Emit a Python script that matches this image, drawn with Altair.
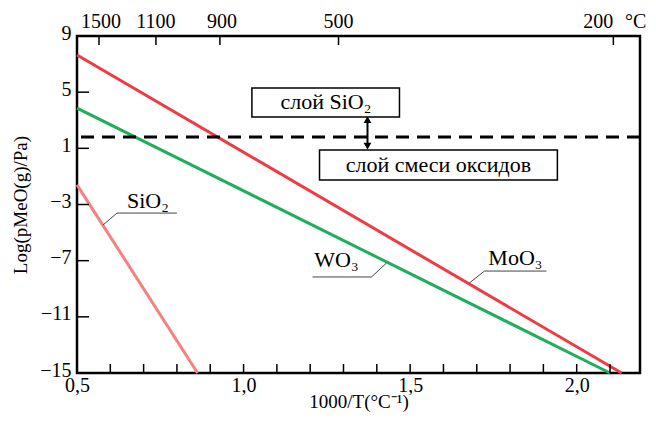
import altair as alt
import pandas as pd

# ---- data ----
moo3_x = [0.5, 2.135]
moo3_y = [7.65, -15.0]
wo3_x = [0.5, 2.10]
wo3_y = [3.87, -15.0]
sio2_x = [0.5, 0.862]
sio2_y = [-1.6, -15.0]
series = ["MoO₃", "WO₃", "SiO₂"]
series_colors = ["#ee3b45", "#1eae5c", "#f5817f"]

x_labels_bottom = [0.5, 1.0, 1.5, 2.0]
x_minor_ticks = [0.6, 0.7, 0.8, 0.9, 1.0, 1.1, 1.2, 1.3, 1.4, 1.5, 1.6, 1.7, 1.8, 1.9, 2.0, 2.1]
y_ticks = [9, 5, 1, -3, -7, -11, -15]
top_tick_pos = [0.566, 0.737, 0.929, 1.285, 2.110]
top_label_pos = [0.572, 0.737, 0.935, 1.285, 2.065]
top_labels = ["1500", "1100", "900", "500", "200"]

boundary_level = [1.8]
arrow_x = [1.372]
arrow_y = [3.05, 1.15]

box_names = ["слой SiO₂", "слой смеси оксидов"]
box_x1 = [1.025, 1.228]
box_x2 = [1.468, 1.942]
box_y1 = [3.23, -1.26]
box_y2 = [5.30, 0.88]
box_text_x = [1.247, 1.585]
box_text_y = [4.27, -0.19]

label_text = ["SiO₂", "WO₃", "MoO₃"]
label_x = [0.713, 1.279, 1.816]
label_y = [-3.25, -7.45, -7.31]
under_x1 = [0.620, 1.207, 1.723]
under_x2 = [0.800, 1.384, 1.909]
under_y = [-3.61, -8.16, -7.74]
lead_x2 = [0.578, 1.429, 1.678]
lead_y2 = [-4.46, -7.17, -8.59]
lead_x1 = [0.620, 1.384, 1.723]

# ---- tables ----
lines_df = pd.DataFrame({
    "x": moo3_x + wo3_x + sio2_x,
    "y": moo3_y + wo3_y + sio2_y,
    "s": [series[0]] * 2 + [series[1]] * 2 + [series[2]] * 2,
})
minor_df = pd.DataFrame({"x": x_minor_ticks})
top_tick_df = pd.DataFrame({"x": top_tick_pos})
top_lab_df = pd.DataFrame({"x": top_label_pos, "t": top_labels})
ytick_df = pd.DataFrame({"y": y_ticks})
bound_df = pd.DataFrame({"y": boundary_level})
arrow_df = pd.DataFrame({"x": arrow_x, "y": [arrow_y[0]], "y2": [arrow_y[1]]})
head_df = pd.DataFrame({"x": arrow_x * 2, "y": arrow_y, "shape": ["triangle-up", "triangle-down"]})
box_df = pd.DataFrame({"x": box_x1, "x2": box_x2, "y": box_y1, "y2": box_y2,
                       "tx": box_text_x, "ty": box_text_y, "t": box_names})
lab_df = pd.DataFrame({"x": label_x, "y": label_y, "t": label_text,
                       "ux1": under_x1, "ux2": under_x2, "uy": under_y,
                       "lx1": lead_x1, "lx2": lead_x2, "ly2": lead_y2})

FONT = "Liberation Serif"
W, H = 563, 337
xs = alt.Scale(domain=[0.5, 2.19], nice=False, zero=False)
ys = alt.Scale(domain=[-15, 9], nice=False, zero=False)

xa = alt.Axis(
    values=x_labels_bottom,
    labelExpr="replace(format(datum.value, '.1f'), '.', ',')",
    title="1000/T(°C⁻¹)", ticks=False, domain=False, grid=False,
    labelFont=FONT, labelFontSize=20, labelColor="black", labelFlush=False,
    labelPadding=2, titleFont=FONT, titleFontSize=19, titleFontWeight="normal",
    titleColor="black", titlePadding=-3)
ya = alt.Axis(
    values=y_ticks, title="Log(pMeO(g)/Pa)", ticks=False, domain=False, grid=False,
    labelFont=FONT, labelFontSize=20, labelColor="black", labelPadding=6,
    labelOffset=-3,
    titleFont=FONT, titleFontSize=19, titleFontWeight="normal", titleColor="black",
    titlePadding=9)


def X(f):
    return alt.X(f, scale=xs, axis=xa, title="1000/T(°C⁻¹)")


def Y(f):
    return alt.Y(f, scale=ys, axis=ya, title="Log(pMeO(g)/Pa)")


lines = alt.Chart(lines_df).mark_line(strokeWidth=3).encode(
    x=X("x:Q"), y=Y("y:Q"),
    color=alt.Color("s:N", scale=alt.Scale(domain=series, range=series_colors), legend=None),
    detail="s:N",
)

minor = alt.Chart(minor_df).mark_rule(color="black", strokeWidth=1.5).encode(
    x=X("x:Q"), y=alt.value(H), y2=alt.value(H - 9))
top_ticks = alt.Chart(top_tick_df).mark_rule(color="black", strokeWidth=1.5).encode(
    x=X("x:Q"), y=alt.value(0), y2=alt.value(9))
top_labs = alt.Chart(top_lab_df).mark_text(font=FONT, fontSize=20, color="black",
                                            baseline="alphabetic").encode(
    x=X("x:Q"), y=alt.value(-8), text="t:N")
deg = alt.Chart(pd.DataFrame({"t": ["°C"]})).mark_text(
    font=FONT, fontSize=20, color="black", baseline="alphabetic", align="left").encode(
    x=alt.value(W - 15), y=alt.value(-8), text="t:N")
yticks = alt.Chart(ytick_df).mark_rule(color="black", strokeWidth=1.5).encode(
    y=Y("y:Q"), x=alt.value(0), x2=alt.value(12))

bound = alt.Chart(bound_df).mark_rule(color="black", strokeWidth=3, strokeDash=[13, 8]).encode(
    y=Y("y:Q"))

arrow = alt.Chart(arrow_df).mark_rule(color="black", strokeWidth=2).encode(
    x=X("x:Q"), y=Y("y:Q"), y2="y2:Q")
heads = alt.Chart(head_df).mark_point(filled=True, color="black", size=60, opacity=1).encode(
    x=X("x:Q"), y=Y("y:Q"),
    shape=alt.Shape("shape:N", scale=None))

boxes = alt.Chart(box_df).mark_rect(fill="white", stroke="black", strokeWidth=1.5).encode(
    x=X("x:Q"), x2="x2:Q", y=Y("y:Q"), y2="y2:Q")
box_txt = alt.Chart(box_df).mark_text(font=FONT, fontSize=22, color="black",
                                       baseline="middle").encode(
    x=X("tx:Q"), y=Y("ty:Q"), text="t:N")

labs = alt.Chart(lab_df).mark_text(font=FONT, fontSize=22, color="black",
                                    baseline="alphabetic").encode(
    x=X("x:Q"), y=Y("y:Q"), text="t:N")
under = alt.Chart(lab_df).mark_rule(color="#444444", strokeWidth=1).encode(
    x=X("ux1:Q"), x2="ux2:Q", y=Y("uy:Q"))
lead = alt.Chart(lab_df).mark_rule(color="#444444", strokeWidth=1).encode(
    x=X("lx1:Q"), x2="lx2:Q", y=Y("uy:Q"), y2="ly2:Q")

chart = alt.layer(
    lines, bound, minor, top_ticks, yticks, arrow, heads, boxes, box_txt,
    under, lead, labs, top_labs, deg
).properties(
    width=W, height=H,
    background="white",
    autosize=alt.AutoSizeParams(type="none"),
    padding={"left": 69, "top": 28, "right": 8, "bottom": 40},
).configure_view(stroke="black", strokeWidth=2.5)

chart.save("out.html", embed_options={"renderer": "svg", "actions": False})
